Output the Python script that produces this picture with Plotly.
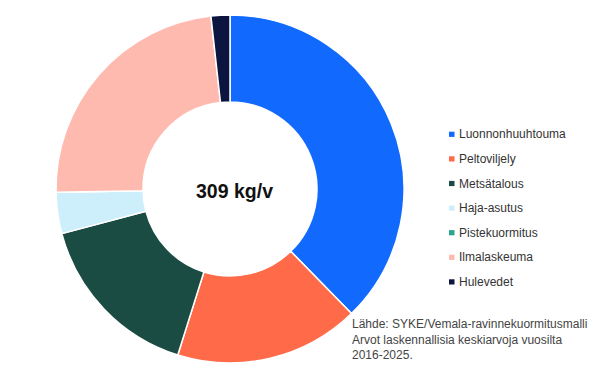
import plotly.graph_objects as go

categories = ["Luonnonhuuhtouma", "Peltoviljely", "Metsätalous", "Haja-asutus",
              "Pistekuormitus", "Ilmalaskeuma", "Hulevedet"]
values = [116.5, 53.0, 49.5, 11.8, 0.0, 72.8, 5.4]
colors = ["#1169FE", "#FF6A49", "#1A4C43", "#CDEEFB", "#2AA68A", "#FFBAAF", "#0B1540"]
center_label = "309 kg/v"
source_lines = ["Lähde: SYKE/Vemala-ravinnekuormitusmalli",
                "Arvot laskennallisia keskiarvoja vuosilta",
                "2016-2025."]

W, H = 600, 379
fig = go.Figure()
fig.add_trace(go.Pie(
    labels=categories, values=values, sort=False, direction="clockwise",
    rotation=0, hole=0.5, textinfo="none", hoverinfo="label+value",
    marker=dict(colors=colors, line=dict(color="white", width=1.5)),
    domain=dict(x=[56 / W, 404 / W], y=[(H - 363) / H, (H - 15) / H]),
    showlegend=False,
))

shapes = []
annotations = []
for i, (cat, col) in enumerate(zip(categories, colors)):
    yc = 134.3 + i * 24.6
    shapes.append(dict(type="rect", xref="paper", yref="paper",
                       x0=449 / W, x1=454.5 / W,
                       y0=(H - yc - 2.6) / H, y1=(H - yc + 2.6) / H,
                       fillcolor=col, line=dict(width=0)))
    annotations.append(dict(text=cat, xref="paper", yref="paper",
                            x=456.5 / W, y=(H - yc) / H, xanchor="left", yanchor="middle",
                            showarrow=False,
                            font=dict(family="Liberation Sans, Arial", size=12, color="#333333")))

annotations.append(dict(text="<b>" + center_label + "</b>", xref="paper", yref="paper",
                        x=234 / W, y=(H - 191) / H, xanchor="center", yanchor="middle",
                        showarrow=False,
                        font=dict(family="Liberation Sans, Arial", size=19.5, color="#111111")))
annotations.append(dict(text="<br>".join(source_lines), xref="paper", yref="paper",
                        x=350 / W, y=(H - 315) / H, xanchor="left", yanchor="top",
                        align="left", showarrow=False,
                        font=dict(family="Liberation Sans, Arial", size=12, color="#444444")))

fig.update_layout(width=W, height=H, margin=dict(l=0, r=0, t=0, b=0),
                  paper_bgcolor="white", plot_bgcolor="white",
                  shapes=shapes, annotations=annotations)
fig.write_html("out.html")
